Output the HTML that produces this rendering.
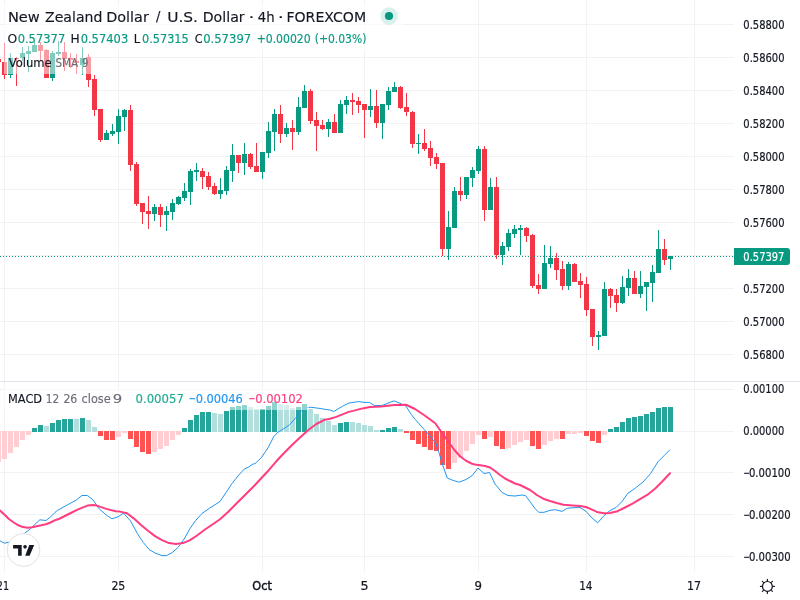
<!DOCTYPE html><html><head><meta charset="utf-8"><title>NZDUSD 4h</title><style>html,body{margin:0;padding:0;background:#fff;width:800px;height:600px;overflow:hidden}svg{display:block}</style></head><body>
<svg width="800" height="600" viewBox="0 0 800 600">
<rect x="0" y="0" width="800" height="600" fill="#fff"/>
<g fill="#F2F2F2" shape-rendering="crispEdges"><rect x="0" y="24" width="734" height="1"/><rect x="0" y="57" width="734" height="1"/><rect x="0" y="90" width="734" height="1"/><rect x="0" y="123" width="734" height="1"/><rect x="0" y="156" width="734" height="1"/><rect x="0" y="189" width="734" height="1"/><rect x="0" y="222" width="734" height="1"/><rect x="0" y="255" width="734" height="1"/><rect x="0" y="288" width="734" height="1"/><rect x="0" y="321" width="734" height="1"/><rect x="0" y="354" width="734" height="1"/><rect x="0" y="389" width="734" height="1"/><rect x="0" y="431" width="734" height="1"/><rect x="0" y="472" width="734" height="1"/><rect x="0" y="514" width="734" height="1"/><rect x="0" y="556" width="734" height="1"/><rect x="4" y="0" width="1" height="381"/><rect x="4" y="382" width="1" height="190"/><rect x="118" y="0" width="1" height="381"/><rect x="118" y="382" width="1" height="190"/><rect x="262" y="0" width="1" height="381"/><rect x="262" y="382" width="1" height="190"/><rect x="364" y="0" width="1" height="381"/><rect x="364" y="382" width="1" height="190"/><rect x="478" y="0" width="1" height="381"/><rect x="478" y="382" width="1" height="190"/><rect x="586" y="0" width="1" height="381"/><rect x="586" y="382" width="1" height="190"/><rect x="694" y="0" width="1" height="381"/><rect x="694" y="382" width="1" height="190"/></g>
<rect x="0" y="381" width="800" height="1" fill="#E0E3EB"/>
<g shape-rendering="crispEdges"><rect x="-2" y="56" width="1" height="8" fill="#F23645"/><rect x="-4" y="59" width="5" height="3" fill="#F23645"/><rect x="4" y="43" width="1" height="36" fill="#F23645"/><rect x="2" y="62" width="5" height="13" fill="#F23645"/><rect x="10" y="53" width="1" height="25" fill="#089981"/><rect x="8" y="58" width="5" height="17" fill="#089981"/><rect x="16" y="57" width="1" height="29" fill="#F23645"/><rect x="14" y="58" width="5" height="1" fill="#F23645"/><rect x="22" y="47" width="1" height="14" fill="#089981"/><rect x="20" y="53" width="5" height="5" fill="#089981"/><rect x="28" y="46" width="1" height="26" fill="#089981"/><rect x="26" y="51" width="5" height="3" fill="#089981"/><rect x="34" y="41" width="1" height="11" fill="#089981"/><rect x="32" y="45" width="5" height="7" fill="#089981"/><rect x="40" y="42" width="1" height="19" fill="#F23645"/><rect x="38" y="45" width="5" height="6" fill="#F23645"/><rect x="46" y="49" width="1" height="29" fill="#F23645"/><rect x="44" y="50" width="5" height="28" fill="#F23645"/><rect x="52" y="51" width="1" height="30" fill="#089981"/><rect x="50" y="53" width="5" height="25" fill="#089981"/><rect x="58" y="41" width="1" height="15" fill="#089981"/><rect x="56" y="52" width="5" height="2" fill="#089981"/><rect x="64" y="42" width="1" height="29" fill="#F23645"/><rect x="62" y="52" width="5" height="7" fill="#F23645"/><rect x="70" y="53" width="1" height="15" fill="#F23645"/><rect x="68" y="58" width="5" height="2" fill="#F23645"/><rect x="76" y="54" width="1" height="20" fill="#F23645"/><rect x="74" y="61" width="5" height="2" fill="#F23645"/><rect x="82" y="47" width="1" height="28" fill="#089981"/><rect x="80" y="58" width="5" height="7" fill="#089981"/><rect x="88" y="54" width="1" height="33" fill="#F23645"/><rect x="86" y="57" width="5" height="23" fill="#F23645"/><rect x="94" y="75" width="1" height="41" fill="#F23645"/><rect x="92" y="79" width="5" height="31" fill="#F23645"/><rect x="100" y="109" width="1" height="33" fill="#F23645"/><rect x="98" y="109" width="5" height="31" fill="#F23645"/><rect x="106" y="130" width="1" height="10" fill="#089981"/><rect x="104" y="133" width="5" height="7" fill="#089981"/><rect x="112" y="124" width="1" height="12" fill="#089981"/><rect x="110" y="131" width="5" height="3" fill="#089981"/><rect x="118" y="109" width="1" height="35" fill="#089981"/><rect x="116" y="116" width="5" height="16" fill="#089981"/><rect x="124" y="109" width="1" height="22" fill="#089981"/><rect x="122" y="110" width="5" height="7" fill="#089981"/><rect x="130" y="105" width="1" height="66" fill="#F23645"/><rect x="128" y="110" width="5" height="55" fill="#F23645"/><rect x="136" y="162" width="1" height="44" fill="#F23645"/><rect x="134" y="164" width="5" height="40" fill="#F23645"/><rect x="142" y="203" width="1" height="21" fill="#F23645"/><rect x="140" y="203" width="5" height="9" fill="#F23645"/><rect x="148" y="196" width="1" height="33" fill="#F23645"/><rect x="146" y="211" width="5" height="3" fill="#F23645"/><rect x="154" y="204" width="1" height="17" fill="#089981"/><rect x="152" y="207" width="5" height="7" fill="#089981"/><rect x="160" y="204" width="1" height="23" fill="#F23645"/><rect x="158" y="207" width="5" height="8" fill="#F23645"/><rect x="166" y="206" width="1" height="25" fill="#089981"/><rect x="164" y="211" width="5" height="4" fill="#089981"/><rect x="172" y="199" width="1" height="21" fill="#089981"/><rect x="170" y="203" width="5" height="9" fill="#089981"/><rect x="178" y="196" width="1" height="9" fill="#089981"/><rect x="176" y="197" width="5" height="7" fill="#089981"/><rect x="184" y="183" width="1" height="18" fill="#089981"/><rect x="182" y="191" width="5" height="7" fill="#089981"/><rect x="190" y="169" width="1" height="36" fill="#089981"/><rect x="188" y="171" width="5" height="21" fill="#089981"/><rect x="196" y="163" width="1" height="18" fill="#089981"/><rect x="194" y="170" width="5" height="2" fill="#089981"/><rect x="202" y="168" width="1" height="21" fill="#F23645"/><rect x="200" y="171" width="5" height="6" fill="#F23645"/><rect x="208" y="172" width="1" height="18" fill="#F23645"/><rect x="206" y="176" width="5" height="11" fill="#F23645"/><rect x="214" y="183" width="1" height="12" fill="#F23645"/><rect x="212" y="186" width="5" height="8" fill="#F23645"/><rect x="220" y="178" width="1" height="21" fill="#089981"/><rect x="218" y="190" width="5" height="4" fill="#089981"/><rect x="226" y="166" width="1" height="29" fill="#089981"/><rect x="224" y="170" width="5" height="21" fill="#089981"/><rect x="232" y="144" width="1" height="38" fill="#089981"/><rect x="230" y="155" width="5" height="16" fill="#089981"/><rect x="238" y="155" width="1" height="18" fill="#F23645"/><rect x="236" y="155" width="5" height="8" fill="#F23645"/><rect x="244" y="143" width="1" height="32" fill="#089981"/><rect x="242" y="154" width="5" height="9" fill="#089981"/><rect x="250" y="153" width="1" height="16" fill="#F23645"/><rect x="248" y="154" width="5" height="13" fill="#F23645"/><rect x="256" y="143" width="1" height="29" fill="#F23645"/><rect x="254" y="166" width="5" height="6" fill="#F23645"/><rect x="262" y="152" width="1" height="27" fill="#089981"/><rect x="260" y="152" width="5" height="20" fill="#089981"/><rect x="268" y="122" width="1" height="36" fill="#089981"/><rect x="266" y="131" width="5" height="22" fill="#089981"/><rect x="274" y="109" width="1" height="42" fill="#089981"/><rect x="272" y="114" width="5" height="18" fill="#089981"/><rect x="280" y="105" width="1" height="38" fill="#F23645"/><rect x="278" y="114" width="5" height="20" fill="#F23645"/><rect x="286" y="123" width="1" height="14" fill="#089981"/><rect x="284" y="128" width="5" height="6" fill="#089981"/><rect x="292" y="120" width="1" height="30" fill="#F23645"/><rect x="290" y="128" width="5" height="4" fill="#F23645"/><rect x="298" y="97" width="1" height="38" fill="#089981"/><rect x="296" y="107" width="5" height="25" fill="#089981"/><rect x="304" y="85" width="1" height="23" fill="#089981"/><rect x="302" y="91" width="5" height="17" fill="#089981"/><rect x="310" y="89" width="1" height="35" fill="#F23645"/><rect x="308" y="91" width="5" height="30" fill="#F23645"/><rect x="316" y="112" width="1" height="39" fill="#F23645"/><rect x="314" y="120" width="5" height="6" fill="#F23645"/><rect x="322" y="120" width="1" height="10" fill="#F23645"/><rect x="320" y="125" width="5" height="4" fill="#F23645"/><rect x="328" y="119" width="1" height="18" fill="#089981"/><rect x="326" y="122" width="5" height="7" fill="#089981"/><rect x="334" y="114" width="1" height="19" fill="#F23645"/><rect x="332" y="122" width="5" height="11" fill="#F23645"/><rect x="340" y="100" width="1" height="33" fill="#089981"/><rect x="338" y="104" width="5" height="29" fill="#089981"/><rect x="346" y="96" width="1" height="18" fill="#089981"/><rect x="344" y="100" width="5" height="5" fill="#089981"/><rect x="352" y="93" width="1" height="22" fill="#F23645"/><rect x="350" y="100" width="5" height="2" fill="#F23645"/><rect x="358" y="97" width="1" height="16" fill="#F23645"/><rect x="356" y="101" width="5" height="4" fill="#F23645"/><rect x="364" y="104" width="1" height="34" fill="#F23645"/><rect x="362" y="104" width="5" height="6" fill="#F23645"/><rect x="370" y="89" width="1" height="28" fill="#089981"/><rect x="368" y="106" width="5" height="4" fill="#089981"/><rect x="376" y="90" width="1" height="38" fill="#F23645"/><rect x="374" y="106" width="5" height="17" fill="#F23645"/><rect x="382" y="104" width="1" height="35" fill="#089981"/><rect x="380" y="104" width="5" height="19" fill="#089981"/><rect x="388" y="87" width="1" height="23" fill="#089981"/><rect x="386" y="91" width="5" height="14" fill="#089981"/><rect x="394" y="82" width="1" height="10" fill="#089981"/><rect x="392" y="87" width="5" height="5" fill="#089981"/><rect x="400" y="86" width="1" height="23" fill="#F23645"/><rect x="398" y="87" width="5" height="21" fill="#F23645"/><rect x="406" y="93" width="1" height="23" fill="#F23645"/><rect x="404" y="107" width="5" height="5" fill="#F23645"/><rect x="412" y="111" width="1" height="37" fill="#F23645"/><rect x="410" y="112" width="5" height="32" fill="#F23645"/><rect x="418" y="134" width="1" height="20" fill="#089981"/><rect x="416" y="143" width="5" height="1" fill="#089981"/><rect x="424" y="129" width="1" height="22" fill="#F23645"/><rect x="422" y="143" width="5" height="6" fill="#F23645"/><rect x="430" y="141" width="1" height="25" fill="#F23645"/><rect x="428" y="148" width="5" height="10" fill="#F23645"/><rect x="436" y="153" width="1" height="16" fill="#F23645"/><rect x="434" y="157" width="5" height="7" fill="#F23645"/><rect x="442" y="163" width="1" height="93" fill="#F23645"/><rect x="440" y="163" width="5" height="86" fill="#F23645"/><rect x="448" y="211" width="1" height="49" fill="#089981"/><rect x="446" y="227" width="5" height="22" fill="#089981"/><rect x="454" y="187" width="1" height="41" fill="#089981"/><rect x="452" y="191" width="5" height="37" fill="#089981"/><rect x="460" y="177" width="1" height="24" fill="#F23645"/><rect x="458" y="191" width="5" height="4" fill="#F23645"/><rect x="466" y="177" width="1" height="22" fill="#089981"/><rect x="464" y="177" width="5" height="18" fill="#089981"/><rect x="472" y="167" width="1" height="20" fill="#089981"/><rect x="470" y="170" width="5" height="8" fill="#089981"/><rect x="478" y="146" width="1" height="28" fill="#089981"/><rect x="476" y="149" width="5" height="22" fill="#089981"/><rect x="484" y="146" width="1" height="75" fill="#F23645"/><rect x="482" y="149" width="5" height="61" fill="#F23645"/><rect x="490" y="178" width="1" height="32" fill="#089981"/><rect x="488" y="187" width="5" height="23" fill="#089981"/><rect x="496" y="177" width="1" height="82" fill="#F23645"/><rect x="494" y="187" width="5" height="68" fill="#F23645"/><rect x="502" y="242" width="1" height="23" fill="#089981"/><rect x="500" y="246" width="5" height="9" fill="#089981"/><rect x="508" y="229" width="1" height="22" fill="#089981"/><rect x="506" y="233" width="5" height="14" fill="#089981"/><rect x="514" y="225" width="1" height="13" fill="#089981"/><rect x="512" y="229" width="5" height="5" fill="#089981"/><rect x="520" y="225" width="1" height="30" fill="#089981"/><rect x="518" y="228" width="5" height="2" fill="#089981"/><rect x="526" y="227" width="1" height="15" fill="#F23645"/><rect x="524" y="228" width="5" height="8" fill="#F23645"/><rect x="532" y="234" width="1" height="54" fill="#F23645"/><rect x="530" y="235" width="5" height="51" fill="#F23645"/><rect x="538" y="274" width="1" height="20" fill="#F23645"/><rect x="536" y="285" width="5" height="4" fill="#F23645"/><rect x="544" y="245" width="1" height="44" fill="#089981"/><rect x="542" y="263" width="5" height="26" fill="#089981"/><rect x="550" y="246" width="1" height="22" fill="#089981"/><rect x="548" y="258" width="5" height="6" fill="#089981"/><rect x="556" y="253" width="1" height="27" fill="#F23645"/><rect x="554" y="258" width="5" height="12" fill="#F23645"/><rect x="562" y="261" width="1" height="29" fill="#F23645"/><rect x="560" y="269" width="5" height="17" fill="#F23645"/><rect x="568" y="262" width="1" height="28" fill="#089981"/><rect x="566" y="264" width="5" height="22" fill="#089981"/><rect x="574" y="263" width="1" height="19" fill="#F23645"/><rect x="572" y="264" width="5" height="18" fill="#F23645"/><rect x="580" y="273" width="1" height="25" fill="#F23645"/><rect x="578" y="281" width="5" height="4" fill="#F23645"/><rect x="586" y="277" width="1" height="39" fill="#F23645"/><rect x="584" y="284" width="5" height="26" fill="#F23645"/><rect x="592" y="309" width="1" height="37" fill="#F23645"/><rect x="590" y="309" width="5" height="28" fill="#F23645"/><rect x="598" y="331" width="1" height="19" fill="#089981"/><rect x="596" y="335" width="5" height="2" fill="#089981"/><rect x="604" y="282" width="1" height="54" fill="#089981"/><rect x="602" y="289" width="5" height="47" fill="#089981"/><rect x="610" y="288" width="1" height="20" fill="#F23645"/><rect x="608" y="289" width="5" height="7" fill="#F23645"/><rect x="616" y="289" width="1" height="23" fill="#F23645"/><rect x="614" y="295" width="5" height="8" fill="#F23645"/><rect x="622" y="276" width="1" height="28" fill="#089981"/><rect x="620" y="287" width="5" height="16" fill="#089981"/><rect x="628" y="269" width="1" height="27" fill="#089981"/><rect x="626" y="278" width="5" height="10" fill="#089981"/><rect x="634" y="271" width="1" height="23" fill="#F23645"/><rect x="632" y="278" width="5" height="16" fill="#F23645"/><rect x="640" y="271" width="1" height="27" fill="#089981"/><rect x="638" y="286" width="5" height="8" fill="#089981"/><rect x="646" y="282" width="1" height="29" fill="#089981"/><rect x="644" y="282" width="5" height="5" fill="#089981"/><rect x="652" y="265" width="1" height="37" fill="#089981"/><rect x="650" y="272" width="5" height="11" fill="#089981"/><rect x="658" y="230" width="1" height="43" fill="#089981"/><rect x="656" y="249" width="5" height="24" fill="#089981"/><rect x="664" y="239" width="1" height="26" fill="#F23645"/><rect x="662" y="249" width="5" height="11" fill="#F23645"/><rect x="670" y="256" width="1" height="14" fill="#089981"/><rect x="668" y="256" width="5" height="3" fill="#089981"/></g>
<line x1="0" y1="256.5" x2="734" y2="256.5" stroke="#089981" stroke-width="1" stroke-dasharray="1 2" shape-rendering="crispEdges"/>
<g shape-rendering="crispEdges"><rect x="-4" y="431" width="5" height="31" fill="#FFCDD2"/><rect x="2" y="431" width="5" height="28" fill="#FFCDD2"/><rect x="8" y="431" width="5" height="22" fill="#FFCDD2"/><rect x="14" y="431" width="5" height="16" fill="#FFCDD2"/><rect x="20" y="431" width="5" height="9" fill="#FFCDD2"/><rect x="26" y="431" width="5" height="4" fill="#FFCDD2"/><rect x="32" y="428" width="5" height="4" fill="#26A69A"/><rect x="38" y="425" width="5" height="7" fill="#26A69A"/><rect x="44" y="426" width="5" height="6" fill="#B2DFDB"/><rect x="50" y="423" width="5" height="9" fill="#26A69A"/><rect x="56" y="420" width="5" height="12" fill="#26A69A"/><rect x="62" y="419" width="5" height="13" fill="#26A69A"/><rect x="68" y="419" width="5" height="13" fill="#26A69A"/><rect x="74" y="419" width="5" height="13" fill="#B2DFDB"/><rect x="80" y="418" width="5" height="14" fill="#26A69A"/><rect x="86" y="420" width="5" height="12" fill="#B2DFDB"/><rect x="92" y="427" width="5" height="5" fill="#B2DFDB"/><rect x="98" y="431" width="5" height="5" fill="#FF5252"/><rect x="104" y="431" width="5" height="9" fill="#FF5252"/><rect x="110" y="431" width="5" height="9" fill="#FF5252"/><rect x="116" y="431" width="5" height="6" fill="#FFCDD2"/><rect x="122" y="431" width="5" height="2" fill="#FFCDD2"/><rect x="128" y="431" width="5" height="8" fill="#FF5252"/><rect x="134" y="431" width="5" height="16" fill="#FF5252"/><rect x="140" y="431" width="5" height="21" fill="#FF5252"/><rect x="146" y="431" width="5" height="23" fill="#FF5252"/><rect x="152" y="431" width="5" height="21" fill="#FFCDD2"/><rect x="158" y="431" width="5" height="18" fill="#FFCDD2"/><rect x="164" y="431" width="5" height="15" fill="#FFCDD2"/><rect x="170" y="431" width="5" height="9" fill="#FFCDD2"/><rect x="176" y="431" width="5" height="4" fill="#FFCDD2"/><rect x="182" y="428" width="5" height="4" fill="#26A69A"/><rect x="188" y="420" width="5" height="12" fill="#26A69A"/><rect x="194" y="415" width="5" height="17" fill="#26A69A"/><rect x="200" y="412" width="5" height="20" fill="#26A69A"/><rect x="206" y="412" width="5" height="20" fill="#26A69A"/><rect x="212" y="413" width="5" height="19" fill="#B2DFDB"/><rect x="218" y="414" width="5" height="18" fill="#B2DFDB"/><rect x="224" y="411" width="5" height="21" fill="#26A69A"/><rect x="230" y="407" width="5" height="25" fill="#26A69A"/><rect x="236" y="406" width="5" height="26" fill="#26A69A"/><rect x="242" y="405" width="5" height="27" fill="#26A69A"/><rect x="248" y="407" width="5" height="25" fill="#B2DFDB"/><rect x="254" y="409" width="5" height="23" fill="#B2DFDB"/><rect x="260" y="409" width="5" height="23" fill="#26A69A"/><rect x="266" y="406" width="5" height="26" fill="#26A69A"/><rect x="272" y="402" width="5" height="30" fill="#26A69A"/><rect x="278" y="404" width="5" height="28" fill="#B2DFDB"/><rect x="284" y="405" width="5" height="27" fill="#B2DFDB"/><rect x="290" y="408" width="5" height="24" fill="#B2DFDB"/><rect x="296" y="407" width="5" height="25" fill="#26A69A"/><rect x="302" y="404" width="5" height="28" fill="#26A69A"/><rect x="308" y="409" width="5" height="23" fill="#B2DFDB"/><rect x="314" y="414" width="5" height="18" fill="#B2DFDB"/><rect x="320" y="418" width="5" height="14" fill="#B2DFDB"/><rect x="326" y="421" width="5" height="11" fill="#B2DFDB"/><rect x="332" y="425" width="5" height="7" fill="#B2DFDB"/><rect x="338" y="423" width="5" height="9" fill="#26A69A"/><rect x="344" y="422" width="5" height="10" fill="#26A69A"/><rect x="350" y="422" width="5" height="10" fill="#B2DFDB"/><rect x="356" y="423" width="5" height="9" fill="#B2DFDB"/><rect x="362" y="425" width="5" height="7" fill="#B2DFDB"/><rect x="368" y="426" width="5" height="6" fill="#B2DFDB"/><rect x="374" y="430" width="5" height="2" fill="#B2DFDB"/><rect x="380" y="430" width="5" height="2" fill="#26A69A"/><rect x="386" y="428" width="5" height="4" fill="#26A69A"/><rect x="392" y="427" width="5" height="5" fill="#26A69A"/><rect x="398" y="429" width="5" height="3" fill="#B2DFDB"/><rect x="404" y="431" width="5" height="2" fill="#FF5252"/><rect x="410" y="431" width="5" height="9" fill="#FF5252"/><rect x="416" y="431" width="5" height="13" fill="#FF5252"/><rect x="422" y="431" width="5" height="16" fill="#FF5252"/><rect x="428" y="431" width="5" height="19" fill="#FF5252"/><rect x="434" y="431" width="5" height="20" fill="#FF5252"/><rect x="440" y="431" width="5" height="34" fill="#FF5252"/><rect x="446" y="431" width="5" height="38" fill="#FF5252"/><rect x="452" y="431" width="5" height="32" fill="#FFCDD2"/><rect x="458" y="431" width="5" height="27" fill="#FFCDD2"/><rect x="464" y="431" width="5" height="20" fill="#FFCDD2"/><rect x="470" y="431" width="5" height="13" fill="#FFCDD2"/><rect x="476" y="431" width="5" height="4" fill="#FFCDD2"/><rect x="482" y="431" width="5" height="8" fill="#FF5252"/><rect x="488" y="431" width="5" height="6" fill="#FFCDD2"/><rect x="494" y="431" width="5" height="15" fill="#FF5252"/><rect x="500" y="431" width="5" height="18" fill="#FF5252"/><rect x="506" y="431" width="5" height="17" fill="#FFCDD2"/><rect x="512" y="431" width="5" height="14" fill="#FFCDD2"/><rect x="518" y="431" width="5" height="11" fill="#FFCDD2"/><rect x="524" y="431" width="5" height="9" fill="#FFCDD2"/><rect x="530" y="431" width="5" height="15" fill="#FF5252"/><rect x="536" y="431" width="5" height="18" fill="#FF5252"/><rect x="542" y="431" width="5" height="14" fill="#FFCDD2"/><rect x="548" y="431" width="5" height="10" fill="#FFCDD2"/><rect x="554" y="431" width="5" height="8" fill="#FFCDD2"/><rect x="560" y="431" width="5" height="8" fill="#FF5252"/><rect x="566" y="431" width="5" height="3" fill="#FFCDD2"/><rect x="572" y="431" width="5" height="3" fill="#FFCDD2"/><rect x="578" y="431" width="5" height="2" fill="#FFCDD2"/><rect x="584" y="431" width="5" height="5" fill="#FF5252"/><rect x="590" y="431" width="5" height="10" fill="#FF5252"/><rect x="596" y="431" width="5" height="12" fill="#FF5252"/><rect x="602" y="431" width="5" height="4" fill="#FFCDD2"/><rect x="608" y="429" width="5" height="3" fill="#26A69A"/><rect x="614" y="427" width="5" height="5" fill="#26A69A"/><rect x="620" y="422" width="5" height="10" fill="#26A69A"/><rect x="626" y="418" width="5" height="14" fill="#26A69A"/><rect x="632" y="417" width="5" height="15" fill="#26A69A"/><rect x="638" y="416" width="5" height="16" fill="#26A69A"/><rect x="644" y="414" width="5" height="18" fill="#26A69A"/><rect x="650" y="412" width="5" height="20" fill="#26A69A"/><rect x="656" y="408" width="5" height="24" fill="#26A69A"/><rect x="662" y="407" width="5" height="25" fill="#26A69A"/><rect x="668" y="407" width="5" height="25" fill="#26A69A"/></g>
<polyline points="0.00,540.90 4.60,543.20 9.20,542.20 16.00,538.50 24.30,533.50 30.30,528.90 34.90,524.40 39.90,519.80 45.90,520.50 50.50,517.00 55.00,512.40 57.50,510.30 66.90,505.20 76.25,500.00 81.90,495.50 87.50,495.50 93.10,500.00 98.75,508.40 106.25,515.00 111.90,518.75 118.00,516.90 123.50,513.10 130.50,520.90 137.50,533.75 143.30,542.50 149.20,549.50 155.00,553.00 162.00,555.60 166.70,555.60 172.50,552.40 178.30,547.20 184.20,539.00 190.00,528.50 195.80,520.30 200.00,515.70 202.00,513.50 209.50,508.20 220.00,501.50 226.00,492.50 232.00,483.50 238.00,476.00 244.00,469.25 248.50,467.00 253.00,464.00 255.00,463.70 261.70,457.30 268.30,447.30 273.70,436.70 277.50,432.50 281.70,430.00 289.70,424.70 295.00,418.70 300.30,412.00 305.70,407.30 311.00,407.30 319.00,408.30 325.00,409.30 330.00,410.00 333.75,411.50 342.50,406.25 348.75,403.10 355.00,402.10 358.75,401.60 364.00,402.40 369.25,402.40 374.50,405.50 382.00,405.50 388.75,402.90 394.00,400.85 400.00,403.25 406.00,406.25 411.25,414.50 415.00,419.20 424.00,429.25 430.00,436.00 436.00,443.50 439.00,452.50 442.00,463.00 447.25,478.00 452.50,480.25 459.25,482.20 466.00,479.50 472.00,475.75 475.00,472.00 478.00,468.00 484.00,473.50 489.50,472.50 495.00,484.00 502.00,492.50 508.00,495.50 515.00,496.00 522.00,495.00 525.50,495.50 531.00,503.00 535.00,508.50 538.70,512.30 544.00,512.30 550.00,510.30 555.30,509.70 562.00,511.40 567.30,508.30 572.00,507.80 580.00,507.50 586.00,511.20 592.00,518.00 597.70,522.80 604.00,515.70 610.00,510.50 616.00,507.50 622.00,501.50 628.00,493.20 635.50,488.00 643.00,482.00 650.50,473.70 658.00,461.70 664.00,455.70 670.00,449.70" fill="none" stroke="#2196F3" stroke-width="1" stroke-linejoin="round"/>
<polyline points="0.00,510.60 4.60,514.70 9.20,519.30 13.75,522.50 18.30,525.30 22.90,527.10 27.50,527.80 32.10,527.30 36.70,526.20 41.30,525.30 45.90,524.20 50.50,522.50 55.00,520.20 59.40,518.75 68.75,514.00 78.10,509.40 87.50,505.60 93.10,504.90 96.90,505.60 106.25,508.90 115.60,511.25 120.00,511.60 127.00,513.30 134.00,518.60 141.00,525.00 148.00,530.80 155.00,536.10 162.00,540.20 169.00,543.10 176.00,543.90 183.00,543.10 190.00,540.20 197.00,535.50 200.00,533.20 205.00,529.50 211.70,525.00 220.00,519.20 228.30,511.70 236.70,503.30 245.00,495.00 253.30,486.70 260.30,479.30 268.30,470.70 276.30,461.30 284.30,452.70 292.30,444.70 300.30,437.30 308.30,430.00 316.30,424.00 325.00,419.70 330.00,418.75 336.25,416.90 342.50,414.40 348.75,411.90 355.00,410.40 362.50,408.40 370.00,407.00 381.25,406.60 394.00,404.90 406.00,404.75 415.00,409.00 424.00,415.00 435.25,423.25 440.50,430.75 446.50,439.00 454.00,449.50 460.00,456.25 466.00,460.75 472.00,463.75 475.00,464.50 485.00,466.00 490.00,467.50 495.00,471.00 500.00,475.00 505.00,478.50 510.00,481.00 515.00,483.50 520.00,485.00 525.00,487.50 530.00,490.00 535.00,493.50 536.70,495.00 543.30,498.70 550.00,501.00 556.70,503.00 563.30,504.70 572.50,505.50 580.00,506.00 586.00,507.00 592.00,509.70 598.00,512.30 604.00,513.20 610.00,513.00 617.50,511.20 625.00,507.50 632.50,503.70 640.00,499.20 647.50,494.70 655.00,488.70 662.50,481.20 670.00,473.30" fill="none" stroke="#FF3D80" stroke-width="2" stroke-linejoin="round" stroke-linecap="round"/>
<g fill="#fff" fill-opacity="0.5" shape-rendering="crispEdges">
<rect x="4" y="4" width="400" height="24"/>
<rect x="4" y="28" width="366" height="23"/>
<rect x="4" y="51" width="88" height="23"/>
<rect x="4" y="388" width="305" height="22"/>
</g>
<text x="7.92" y="21.70" font-family="'DejaVu Sans', sans-serif" font-size="14.7" fill="#131722" textLength="31.90" lengthAdjust="spacingAndGlyphs" stroke="#131722" stroke-width="0.15">New</text>
<text x="45.07" y="21.70" font-family="'DejaVu Sans', sans-serif" font-size="14.7" fill="#131722" textLength="57.30" lengthAdjust="spacingAndGlyphs" stroke="#131722" stroke-width="0.15">Zealand</text>
<text x="106.19" y="21.70" font-family="'DejaVu Sans', sans-serif" font-size="14.7" fill="#131722" textLength="42.62" lengthAdjust="spacingAndGlyphs" stroke="#131722" stroke-width="0.15">Dollar</text>
<text x="156.10" y="20.90" font-family="'DejaVu Sans', sans-serif" font-size="14.7" fill="#131722" textLength="4.40" lengthAdjust="spacingAndGlyphs" stroke="#131722" stroke-width="0.15">/</text>
<text x="167.16" y="21.70" font-family="'DejaVu Sans', sans-serif" font-size="14.7" fill="#131722" textLength="30.79" lengthAdjust="spacingAndGlyphs" stroke="#131722" stroke-width="0.15">U.S.</text>
<text x="202.71" y="21.70" font-family="'DejaVu Sans', sans-serif" font-size="14.7" fill="#131722" textLength="42.00" lengthAdjust="spacingAndGlyphs" stroke="#131722" stroke-width="0.15">Dollar</text>
<text x="248.63" y="21.70" font-family="'DejaVu Sans', sans-serif" font-size="14.7" fill="#131722" textLength="5.86" lengthAdjust="spacingAndGlyphs" stroke="#131722" stroke-width="0.15">·</text>
<text x="257.85" y="21.70" font-family="'DejaVu Sans', sans-serif" font-size="14.7" fill="#131722" textLength="16.88" lengthAdjust="spacingAndGlyphs" stroke="#131722" stroke-width="0.15">4h</text>
<text x="277.72" y="21.70" font-family="'DejaVu Sans', sans-serif" font-size="14.7" fill="#131722" textLength="6.17" lengthAdjust="spacingAndGlyphs" stroke="#131722" stroke-width="0.15">·</text>
<text x="286.42" y="21.70" font-family="'DejaVu Sans', sans-serif" font-size="14.7" fill="#131722" textLength="79.66" lengthAdjust="spacingAndGlyphs" stroke="#131722" stroke-width="0.15">FOREXCOM</text>
<circle cx="389" cy="16" r="8.75" fill="#089981" fill-opacity="0.15"/>
<circle cx="389" cy="16" r="4.1" fill="#089981"/>
<text x="7.40" y="42.60" font-family="'DejaVu Sans Condensed','DejaVu Sans', sans-serif" font-size="13" fill="#131722" textLength="9.68" lengthAdjust="spacingAndGlyphs" stroke="#131722" stroke-width="0.15">O</text>
<text x="17.64" y="42.60" font-family="'DejaVu Sans Condensed','DejaVu Sans', sans-serif" font-size="13" fill="#089981" textLength="47.63" lengthAdjust="spacingAndGlyphs" stroke="#089981" stroke-width="0.15">0.57377</text>
<text x="70.60" y="42.60" font-family="'DejaVu Sans Condensed','DejaVu Sans', sans-serif" font-size="13" fill="#131722" textLength="9.20" lengthAdjust="spacingAndGlyphs" stroke="#131722" stroke-width="0.15">H</text>
<text x="80.65" y="42.60" font-family="'DejaVu Sans Condensed','DejaVu Sans', sans-serif" font-size="13" fill="#089981" textLength="47.57" lengthAdjust="spacingAndGlyphs" stroke="#089981" stroke-width="0.15">0.57403</text>
<text x="133.66" y="42.60" font-family="'DejaVu Sans Condensed','DejaVu Sans', sans-serif" font-size="13" fill="#131722" textLength="6.49" lengthAdjust="spacingAndGlyphs" stroke="#131722" stroke-width="0.15">L</text>
<text x="141.96" y="42.60" font-family="'DejaVu Sans Condensed','DejaVu Sans', sans-serif" font-size="13" fill="#089981" textLength="46.83" lengthAdjust="spacingAndGlyphs" stroke="#089981" stroke-width="0.15">0.57315</text>
<text x="194.66" y="42.60" font-family="'DejaVu Sans Condensed','DejaVu Sans', sans-serif" font-size="13" fill="#131722" textLength="7.84" lengthAdjust="spacingAndGlyphs" stroke="#131722" stroke-width="0.15">C</text>
<text x="203.14" y="42.60" font-family="'DejaVu Sans Condensed','DejaVu Sans', sans-serif" font-size="13" fill="#089981" textLength="48.05" lengthAdjust="spacingAndGlyphs" stroke="#089981" stroke-width="0.15">0.57397</text>
<text x="256.65" y="42.60" font-family="'DejaVu Sans Condensed','DejaVu Sans', sans-serif" font-size="13" fill="#089981" textLength="54.06" lengthAdjust="spacingAndGlyphs" stroke="#089981" stroke-width="0.15">+0.00020</text>
<text x="314.78" y="42.60" font-family="'DejaVu Sans Condensed','DejaVu Sans', sans-serif" font-size="13" fill="#089981" textLength="51.65" lengthAdjust="spacingAndGlyphs" stroke="#089981" stroke-width="0.15">(+0.03%)</text>
<text x="8.81" y="66.90" font-family="'DejaVu Sans Condensed','DejaVu Sans', sans-serif" font-size="13" fill="#131722" textLength="42.90" lengthAdjust="spacingAndGlyphs" stroke="#131722" stroke-width="0.15">Volume</text>
<text x="55.52" y="66.90" font-family="'DejaVu Sans Condensed','DejaVu Sans', sans-serif" font-size="13" fill="#6A6D78" textLength="22.66" lengthAdjust="spacingAndGlyphs" stroke="#6A6D78" stroke-width="0.15">SMA</text>
<text x="81.96" y="66.90" font-family="'DejaVu Sans Condensed','DejaVu Sans', sans-serif" font-size="13" fill="#6A6D78" textLength="6.46" lengthAdjust="spacingAndGlyphs" stroke="#6A6D78" stroke-width="0.15">9</text>
<text x="8.09" y="402.90" font-family="'DejaVu Sans Condensed','DejaVu Sans', sans-serif" font-size="13" fill="#131722" textLength="33.98" lengthAdjust="spacingAndGlyphs" stroke="#131722" stroke-width="0.15">MACD</text>
<text x="45.84" y="402.90" font-family="'DejaVu Sans Condensed','DejaVu Sans', sans-serif" font-size="13" fill="#6A6D78" textLength="13.41" lengthAdjust="spacingAndGlyphs" stroke="#6A6D78" stroke-width="0.15">12</text>
<text x="63.39" y="402.90" font-family="'DejaVu Sans Condensed','DejaVu Sans', sans-serif" font-size="13" fill="#6A6D78" textLength="14.00" lengthAdjust="spacingAndGlyphs" stroke="#6A6D78" stroke-width="0.15">26</text>
<text x="81.57" y="402.90" font-family="'DejaVu Sans Condensed','DejaVu Sans', sans-serif" font-size="13" fill="#6A6D78" textLength="29.02" lengthAdjust="spacingAndGlyphs" stroke="#6A6D78" stroke-width="0.15">close</text>
<text x="112.75" y="402.90" font-family="'DejaVu Sans Condensed','DejaVu Sans', sans-serif" font-size="13" fill="#6A6D78" textLength="9.50" lengthAdjust="spacingAndGlyphs" stroke="#6A6D78" stroke-width="0.15">9</text>
<text x="135.53" y="402.90" font-family="'DejaVu Sans Condensed','DejaVu Sans', sans-serif" font-size="13" fill="#22AB94" textLength="48.36" lengthAdjust="spacingAndGlyphs" stroke="#22AB94" stroke-width="0.15">0.00057</text>
<text x="188.91" y="402.90" font-family="'DejaVu Sans Condensed','DejaVu Sans', sans-serif" font-size="13" fill="#2196F3" textLength="7.08" lengthAdjust="spacingAndGlyphs" stroke="#2196F3" stroke-width="0.15">−</text>
<text x="195.65" y="402.90" font-family="'DejaVu Sans Condensed','DejaVu Sans', sans-serif" font-size="13" fill="#2196F3" textLength="47.26" lengthAdjust="spacingAndGlyphs" stroke="#2196F3" stroke-width="0.15">0.00046</text>
<text x="248.62" y="402.90" font-family="'DejaVu Sans Condensed','DejaVu Sans', sans-serif" font-size="13" fill="#FF3D80" textLength="7.02" lengthAdjust="spacingAndGlyphs" stroke="#FF3D80" stroke-width="0.15">−</text>
<text x="255.14" y="402.90" font-family="'DejaVu Sans Condensed','DejaVu Sans', sans-serif" font-size="13" fill="#FF3D80" textLength="47.81" lengthAdjust="spacingAndGlyphs" stroke="#FF3D80" stroke-width="0.15">0.00102</text>
<text x="743.35" y="28.90" font-family="'DejaVu Sans Condensed','DejaVu Sans', sans-serif" font-size="12.6" fill="#131722" textLength="41.21" lengthAdjust="spacingAndGlyphs" stroke="#131722" stroke-width="0.2">0.58800</text>
<text x="743.35" y="61.90" font-family="'DejaVu Sans Condensed','DejaVu Sans', sans-serif" font-size="12.6" fill="#131722" textLength="41.21" lengthAdjust="spacingAndGlyphs" stroke="#131722" stroke-width="0.2">0.58600</text>
<text x="743.35" y="94.90" font-family="'DejaVu Sans Condensed','DejaVu Sans', sans-serif" font-size="12.6" fill="#131722" textLength="41.21" lengthAdjust="spacingAndGlyphs" stroke="#131722" stroke-width="0.2">0.58400</text>
<text x="743.35" y="127.90" font-family="'DejaVu Sans Condensed','DejaVu Sans', sans-serif" font-size="12.6" fill="#131722" textLength="41.21" lengthAdjust="spacingAndGlyphs" stroke="#131722" stroke-width="0.2">0.58200</text>
<text x="743.35" y="160.90" font-family="'DejaVu Sans Condensed','DejaVu Sans', sans-serif" font-size="12.6" fill="#131722" textLength="41.21" lengthAdjust="spacingAndGlyphs" stroke="#131722" stroke-width="0.2">0.58000</text>
<text x="743.35" y="193.90" font-family="'DejaVu Sans Condensed','DejaVu Sans', sans-serif" font-size="12.6" fill="#131722" textLength="41.21" lengthAdjust="spacingAndGlyphs" stroke="#131722" stroke-width="0.2">0.57800</text>
<text x="743.35" y="226.90" font-family="'DejaVu Sans Condensed','DejaVu Sans', sans-serif" font-size="12.6" fill="#131722" textLength="41.21" lengthAdjust="spacingAndGlyphs" stroke="#131722" stroke-width="0.2">0.57600</text>
<text x="743.35" y="292.90" font-family="'DejaVu Sans Condensed','DejaVu Sans', sans-serif" font-size="12.6" fill="#131722" textLength="41.21" lengthAdjust="spacingAndGlyphs" stroke="#131722" stroke-width="0.2">0.57200</text>
<text x="743.35" y="325.90" font-family="'DejaVu Sans Condensed','DejaVu Sans', sans-serif" font-size="12.6" fill="#131722" textLength="41.21" lengthAdjust="spacingAndGlyphs" stroke="#131722" stroke-width="0.2">0.57000</text>
<text x="743.35" y="358.90" font-family="'DejaVu Sans Condensed','DejaVu Sans', sans-serif" font-size="12.6" fill="#131722" textLength="41.21" lengthAdjust="spacingAndGlyphs" stroke="#131722" stroke-width="0.2">0.56800</text>
<path d="M734 248H787a3 3 0 0 1 3 3V262a3 3 0 0 1 -3 3H734Z" fill="#089981"/>
<text x="743.35" y="260.60" font-family="'DejaVu Sans Condensed','DejaVu Sans', sans-serif" font-size="12.6" fill="#fff" textLength="41.09" lengthAdjust="spacingAndGlyphs" stroke="#fff" stroke-width="0.2">0.57397</text>
<text x="743.35" y="393.10" font-family="'DejaVu Sans Condensed','DejaVu Sans', sans-serif" font-size="12.6" fill="#131722" textLength="40.90" lengthAdjust="spacingAndGlyphs" stroke="#131722" stroke-width="0.2">0.00100</text>
<text x="743.35" y="435.10" font-family="'DejaVu Sans Condensed','DejaVu Sans', sans-serif" font-size="12.6" fill="#131722" textLength="40.90" lengthAdjust="spacingAndGlyphs" stroke="#131722" stroke-width="0.2">0.00000</text>
<text x="743.59" y="477.10" font-family="'DejaVu Sans Condensed','DejaVu Sans', sans-serif" font-size="12.6" fill="#131722" textLength="6.42" lengthAdjust="spacingAndGlyphs" stroke="#131722" stroke-width="0.2">−</text>
<text x="748.94" y="477.10" font-family="'DejaVu Sans Condensed','DejaVu Sans', sans-serif" font-size="12.6" fill="#131722" textLength="41.73" lengthAdjust="spacingAndGlyphs" stroke="#131722" stroke-width="0.2">0.00100</text>
<text x="743.59" y="519.10" font-family="'DejaVu Sans Condensed','DejaVu Sans', sans-serif" font-size="12.6" fill="#131722" textLength="6.42" lengthAdjust="spacingAndGlyphs" stroke="#131722" stroke-width="0.2">−</text>
<text x="748.94" y="519.10" font-family="'DejaVu Sans Condensed','DejaVu Sans', sans-serif" font-size="12.6" fill="#131722" textLength="41.73" lengthAdjust="spacingAndGlyphs" stroke="#131722" stroke-width="0.2">0.00200</text>
<text x="743.59" y="561.10" font-family="'DejaVu Sans Condensed','DejaVu Sans', sans-serif" font-size="12.6" fill="#131722" textLength="6.42" lengthAdjust="spacingAndGlyphs" stroke="#131722" stroke-width="0.2">−</text>
<text x="748.94" y="561.10" font-family="'DejaVu Sans Condensed','DejaVu Sans', sans-serif" font-size="12.6" fill="#131722" textLength="41.73" lengthAdjust="spacingAndGlyphs" stroke="#131722" stroke-width="0.2">0.00300</text>
<text x="-3.20" y="590.00" font-family="'DejaVu Sans Condensed','DejaVu Sans', sans-serif" font-size="12.6" fill="#131722" textLength="12.18" lengthAdjust="spacingAndGlyphs" stroke="#131722" stroke-width="0.2">21</text>
<text x="111.39" y="590.00" font-family="'DejaVu Sans Condensed','DejaVu Sans', sans-serif" font-size="12.6" fill="#131722" textLength="13.96" lengthAdjust="spacingAndGlyphs" stroke="#131722" stroke-width="0.2">25</text>
<text x="252.36" y="590.00" font-family="'DejaVu Sans Condensed','DejaVu Sans', sans-serif" font-size="12.6" fill="#131722" textLength="19.49" lengthAdjust="spacingAndGlyphs" stroke="#131722" stroke-width="0.45">Oct</text>
<text x="360.43" y="590.00" font-family="'DejaVu Sans Condensed','DejaVu Sans', sans-serif" font-size="12.6" fill="#131722" textLength="8.08" lengthAdjust="spacingAndGlyphs" stroke="#131722" stroke-width="0.2">5</text>
<text x="474.46" y="590.00" font-family="'DejaVu Sans Condensed','DejaVu Sans', sans-serif" font-size="12.6" fill="#131722" textLength="7.47" lengthAdjust="spacingAndGlyphs" stroke="#131722" stroke-width="0.2">9</text>
<text x="579.15" y="590.00" font-family="'DejaVu Sans Condensed','DejaVu Sans', sans-serif" font-size="12.6" fill="#131722" textLength="13.34" lengthAdjust="spacingAndGlyphs" stroke="#131722" stroke-width="0.2">14</text>
<text x="686.88" y="590.00" font-family="'DejaVu Sans Condensed','DejaVu Sans', sans-serif" font-size="12.6" fill="#131722" textLength="14.06" lengthAdjust="spacingAndGlyphs" stroke="#131722" stroke-width="0.2">17</text>
<circle cx="23.5" cy="550" r="16.4" fill="#fff" stroke="#E2E2E4" stroke-width="1"/>
<g fill="#131722"><path d="M13.1 545.05H21.7V555.7H18.1V548.6H13.1Z"/><path d="M29.3 545.1H34.2L29.6 555.7H25.2Z"/><circle cx="25.05" cy="546.85" r="1.8"/></g>
<g transform="translate(767.4,586.4)" stroke="#131722" fill="none" stroke-width="1.2"><circle r="4.9"/><line x1="4.90" y1="0.00" x2="7.50" y2="0.00"/><line x1="3.46" y1="3.46" x2="4.24" y2="4.24"/><circle cx="4.88" cy="4.88" r="0.75" fill="#131722" stroke="none"/><line x1="0.00" y1="4.90" x2="0.00" y2="7.50"/><line x1="-3.46" y1="3.46" x2="-4.24" y2="4.24"/><circle cx="-4.88" cy="4.88" r="0.75" fill="#131722" stroke="none"/><line x1="-4.90" y1="0.00" x2="-7.50" y2="0.00"/><line x1="-3.46" y1="-3.46" x2="-4.24" y2="-4.24"/><circle cx="-4.88" cy="-4.88" r="0.75" fill="#131722" stroke="none"/><line x1="-0.00" y1="-4.90" x2="-0.00" y2="-7.50"/><line x1="3.46" y1="-3.46" x2="4.24" y2="-4.24"/><circle cx="4.88" cy="-4.88" r="0.75" fill="#131722" stroke="none"/></g>
</svg></body></html>
